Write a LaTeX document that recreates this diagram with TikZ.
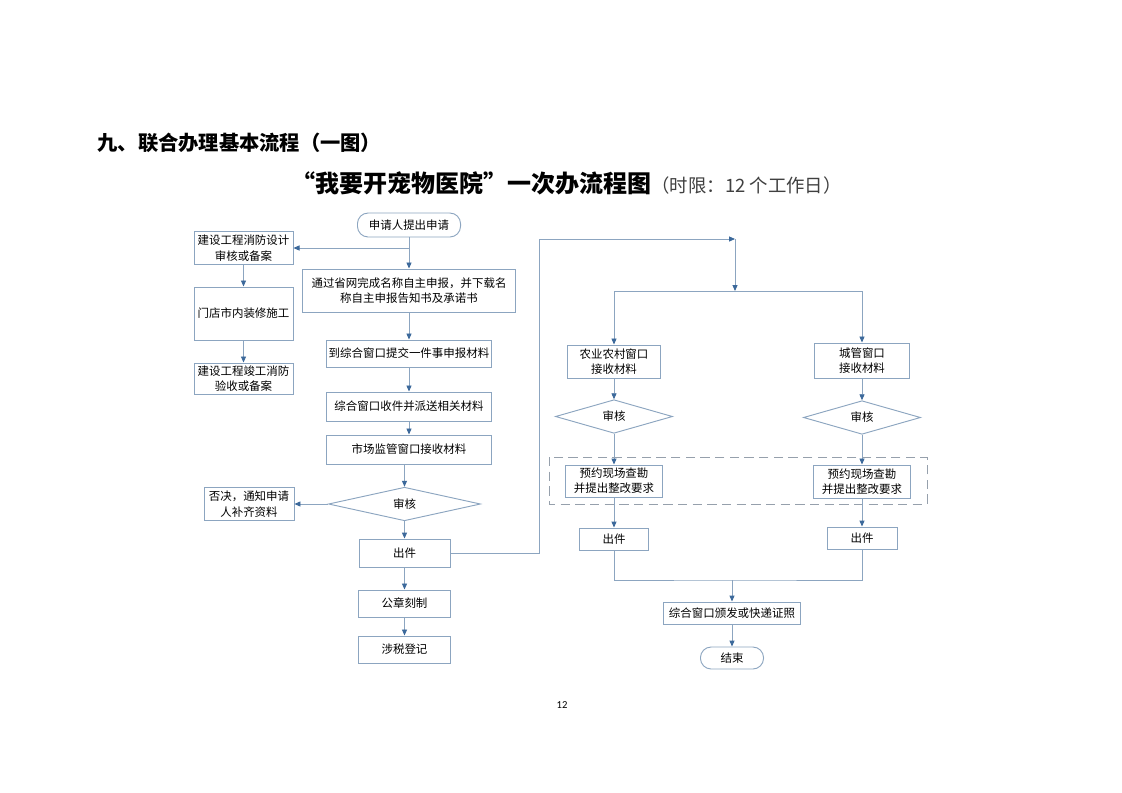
\documentclass[tikz,border=0pt]{standalone}
\usepackage{fontspec}
\setmainfont{Noto Sans CJK SC}
\newfontfamily\numfont{Carlito}
\usetikzlibrary{shapes.geometric,arrows.meta}
\definecolor{myline}{RGB}{140,165,192}
\definecolor{mytip}{RGB}{60,105,155}
\definecolor{mydash}{RGB}{150,160,172}

\begin{document}
\begin{tikzpicture}[x=0.75pt,y=-0.75pt,line width=0.7pt,
  font=\fontsize{8.6}{11.5}\selectfont,
  pbox/.style={draw=myline,align=center,inner sep=0pt},
  dnode/.style={draw=myline,diamond,inner sep=0pt,minimum width=87.8pt,minimum height=18pt},
  tnode/.style={draw=myline,rounded corners=8pt,inner sep=0pt},
  arr/.style={draw=myline,-{Triangle[length=4.5pt,width=3.8pt,color=mytip]}},
  ln/.style={draw=myline}]

  \fill[white] (0,0) rectangle (1122,793);
  \useasboundingbox (0,0) rectangle (1122,793);

  % titles
  \node[anchor=west,inner sep=0pt,font=\fontsize{15.2}{18}\selectfont\bfseries] (title) at (97,143) {九、联合办理基本流程（一图）};
  \node[anchor=west,inner sep=0pt] (flowtitle) at (291,183) {{\fontsize{18}{21}\selectfont\bfseries “我要开宠物医院”一次办流程图}{\fontsize{13.8}{16}\selectfont\color{black!75}（时限：12 个工作日）}};

  % main column
  \node[tnode,minimum width=77.3pt,minimum height=18pt] (start) at (409,225) {申请人提出申请};
  \node[pbox,minimum width=159.8pt,minimum height=32.3pt] (online) at (409,290.5) {通过省网完成名称自主申报，并下载名\\称自主申报告知书及承诺书};
  \node[pbox,minimum width=123.8pt,minimum height=20.3pt] (submit) at (409,353.5) {到综合窗口提交一件事申报材料};
  \node[pbox,minimum width=123.8pt,minimum height=21.8pt] (dispatch) at (409,406.5) {综合窗口收件并派送相关材料};
  \node[pbox,minimum width=123.8pt,minimum height=21.8pt] (market) at (409,449.5) {市场监管窗口接收材料};
  \node[dnode,minimum width=114pt,minimum height=24pt] (check) at (404.5,504) {审核};
  \node[pbox,minimum width=68.3pt,minimum height=21pt] (issue) at (404.5,553) {出件};
  \node[pbox,minimum width=69pt,minimum height=20.3pt] (seal) at (404.5,603.5) {公章刻制};
  \node[pbox,minimum width=69pt,minimum height=20.3pt] (tax) at (404.5,649.5) {涉税登记};

  % left column
  \node[pbox,minimum width=74.3pt,minimum height=24.8pt] (design) at (243.5,248) {建设工程消防设计\\审核或备案};
  \node[pbox,minimum width=74.3pt,minimum height=39.8pt] (decor) at (243.5,313.5) {门店市内装修施工};
  \node[pbox,minimum width=74.3pt,minimum height=23.3pt] (accept) at (243.5,378.5) {建设工程竣工消防\\验收或备案};
  \node[pbox,minimum width=67.5pt,minimum height=24.8pt] (reject) at (249,504) {否决，通知申请\\人补齐资料};

  % right branches
  \node[pbox,minimum width=69.8pt,minimum height=24.8pt] (agri) at (614,361.5) {农业农村窗口\\接收材料};
  \node[pbox,minimum width=71.3pt,minimum height=26.3pt] (urban) at (862,360.5) {城管窗口\\接收材料};
  \node[dnode] (check2) at (614,416.5) {审核};
  \node[dnode] (check3) at (862,417.5) {审核};
  \node[pbox,minimum width=72.8pt,minimum height=24pt] (visit1) at (614,481) {预约现场查勘\\并提出整改要求};
  \node[pbox,minimum width=72.8pt,minimum height=24.8pt] (visit2) at (862,481.5) {预约现场查勘\\并提出整改要求};
  \node[pbox,minimum width=51.8pt,minimum height=16.5pt] (issue1) at (614,539) {出件};
  \node[pbox,minimum width=52.5pt,minimum height=16.5pt] (issue2) at (862,538) {出件};
  \node[pbox,minimum width=102.8pt,minimum height=16.5pt] (deliver) at (732,613) {综合窗口颁发或快递证照};
  \node[tnode,minimum width=47.3pt,minimum height=16.5pt] (finish) at (732,658) {结束};

  \draw[mydash,dash pattern=on 7pt off 4pt] (549,457) rectangle (927,504);

  \coordinate (fork) at (409,248);
  \coordinate (turn) at (539,553);
  \coordinate (top) at (735,239);
  \coordinate (split) at (735,291);
  \coordinate (merge) at (732,580);

  % connectors
  \draw[arr] (start) -- (online);
  \draw[arr] (fork) -- (design.east);
  \draw[arr] (online) -- (submit);
  \draw[arr] (submit) -- (dispatch);
  \draw[arr] (dispatch) -- (market);
  \draw[arr] (market.south -| check.north) -- (check);
  \draw[arr] (check) -- (reject);
  \draw[arr] (check) -- (issue);
  \draw[arr] (issue) -- (seal);
  \draw[arr] (seal) -- (tax);
  \draw[arr] (design) -- (decor);
  \draw[arr] (decor) -- (accept);

  \draw[arr] (issue.east) -- (turn) |- (top);
  \draw[arr] (top) -- (split);
  \draw[ln] (split -| agri) -- (split -| urban);
  \draw[arr] (split -| agri) -- (agri);
  \draw[arr] (split -| urban) -- (urban);
  \draw[arr] (agri) -- (check2);
  \draw[arr] (urban) -- (check3);
  \draw[arr] (check2) -- (visit1);
  \draw[arr] (check3) -- (visit2);
  \draw[arr] (visit1) -- (issue1);
  \draw[arr] (visit2) -- (issue2);
  \draw[ln] (issue1) |- (merge) -| (issue2);
  \draw[arr] (merge) -- (deliver);
  \draw[arr] (deliver) -- (finish);

  \node[font=\numfont\fontsize{8}{9}\selectfont] (pagenum) at (562,705) {12};
\end{tikzpicture}
\end{document}
